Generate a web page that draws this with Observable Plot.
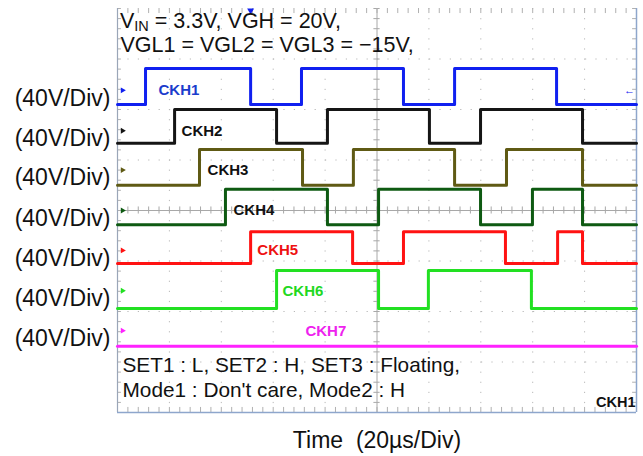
<!DOCTYPE html>
<html><head><meta charset="utf-8">
<script src="https://cdn.jsdelivr.net/npm/d3@7"></script>
<script src="https://cdn.jsdelivr.net/npm/@observablehq/plot@0.6"></script>
<style>body{margin:0;background:#fff} #chart{width:643px;height:456px}</style>
</head><body><div id="chart"></div>
<script>
// Channels and their readings (time in µs, level in screen divisions from bottom)
const channels = ["CKH1", "CKH2", "CKH3", "CKH4", "CKH5", "CKH6", "CKH7"];
const traceColors = ["#1020f0", "#151515", "#5f5a14", "#0e5a12", "#ff1212", "#22e022", "#ff22ff"];
const labelColors = ["#1b3ccc", "#111111", "#111111", "#111111", "#ee1111", "#22d822", "#ee22ee"];
const lowLevel  = [6.10, 5.33, 4.50, 3.72, 2.95, 2.06, 1.31];
const highLevel = [6.81, 6.00, 5.21, 4.42, 3.58, 2.81, 1.31];
const refLevel  = [6.38, 5.58, 4.80, 4.00, 3.21, 2.41, 1.62];
const labelTime = [15.8, 24.7, 34.7, 44.7, 53.9, 63.6, 72.4];
const edges = [
  [10.8, 51.3, 70.9, 110.2, 129.9, 169.2],
  [22.0, 61.3, 80.9, 120.2, 139.9, 179.2],
  [31.6, 71.3, 90.9, 129.9, 149.9, 179.2],
  [41.6, 80.9, 100.6, 139.9, 159.9, 179.2],
  [51.3, 90.6, 110.2, 149.5, 169.6, 179.2],
  [61.3, 100.6, 119.8, 159.5],
  []
];
const scaleLabel = "(40V/Div)";
const timeLabel = "Time  (20\u00b5s/Div)";
const titleLine2 = "VGL1 = VGL2 = VGL3 = \u221215V,";
const noteText = "SET1 : L, SET2 : H, SET3 : Floating,\nMode1 : Don't care, Mode2 : H";
const cornerText = "CKH1";
const triggerTime = 51.3;

// build step rows from the edge lists
const rows = [];
channels.forEach((ch, i) => {
  let high = false;
  rows.push({ch, t: 0, v: lowLevel[i]});
  edges[i].forEach(t => { high = !high; rows.push({ch, t, v: high ? highLevel[i] : lowLevel[i]}); });
  rows.push({ch, t: 200, v: high ? highLevel[i] : lowLevel[i]});
});
const chanInfo = channels.map((ch, i) => ({ch, ref: refLevel[i], lt: labelTime[i], lc: labelColors[i], tc: traceColors[i]}));

// graticule positions (divisions)
const xMajor = d3.range(20, 200, 20).filter(v => v !== 100);
const yMajor = d3.range(1, 8, 1).filter(v => v !== 4);
const xMinor = d3.range(0, 200.01, 4);
const yMinor = d3.range(0, 8.001, 0.2);
const gridC = "#b8b8b8";
const edgeC = "#8ea6cc";
const FONT = "'Liberation Sans', Arial, Helvetica, sans-serif";

const plot = Plot.plot({
  width: 643, height: 456,
  marginLeft: 117, marginRight: 7, marginTop: 8, marginBottom: 44,
  style: {fontFamily: FONT, background: "white", overflow: "visible"},
  x: {domain: [0, 200], axis: null},
  y: {domain: [0, 8], axis: null},
  color: {domain: channels, range: traceColors},
  marks: [
    Plot.ruleX(xMajor, {stroke: gridC, strokeWidth: 1, strokeDasharray: "1.2,8.9"}),
    Plot.ruleY(yMajor, {stroke: gridC, strokeWidth: 1, strokeDasharray: "1.2,9.2"}),
    Plot.ruleX([100], {stroke: "#a8a8a8", strokeWidth: 1}),
    Plot.ruleY([4], {stroke: "#a8a8a8", strokeWidth: 1}),
    Plot.ruleX(xMinor, {x: d => d, y1: 3.93, y2: 4.07, stroke: "#a8a8a8"}),
    Plot.ruleY(yMinor, {y: d => d, x1: 98.8, x2: 101.2, stroke: "#a8a8a8"}),
    Plot.ruleX(xMinor, {x: d => d, y1: 7.9, y2: 8, stroke: "#b0b0b0"}),
    Plot.ruleX(xMinor, {x: d => d, y1: 0, y2: 0.1, stroke: "#b0b0b0"}),
    Plot.ruleY(yMinor, {y: d => d, x1: 0, x2: 1.5, stroke: "#b0b0b0"}),
    Plot.ruleY(yMinor, {y: d => d, x1: 198.5, x2: 200, stroke: "#b0b0b0"}),
    Plot.ruleX([0], {stroke: "#9aa6b8", strokeWidth: 1.2}),
    Plot.ruleX([200], {stroke: edgeC, strokeWidth: 1.5}),
    Plot.ruleY([0], {stroke: edgeC, strokeWidth: 1.5}),
    Plot.line(rows, {x: "t", y: "v", z: "ch", stroke: "ch", curve: "step-after", strokeWidth: 3}),
    Plot.dot(chanInfo, {x: 0, y: "ref", symbol: "triangle2", rotate: 90, r: 2.8, fill: "tc", stroke: "none", dx: 5}),
    Plot.text(chanInfo, {x: "lt", y: "ref", text: "ch", fill: "lc", fontWeight: "bold", fontSize: 15, textAnchor: "start"}),
    Plot.axisY({ticks: refLevel, tickFormat: () => scaleLabel, tickSize: 0, tickPadding: 7, fontSize: 23, dy: 8, anchor: "left", fill: "#111"}),
    Plot.text([timeLabel], {frameAnchor: "bottom", dy: 35, lineAnchor: "bottom", fontSize: 23, fill: "#111"}),
    Plot.text([titleLine2], {frameAnchor: "top-left", dx: 3, dy: 43, lineAnchor: "bottom", textAnchor: "start", fontSize: 21.5, fill: "#111"}),
    Plot.text([noteText], {frameAnchor: "bottom-left", dx: 5, dy: -16, lineAnchor: "bottom", textAnchor: "start", fontSize: 20.8, lineHeight: 1.2, fill: "#111"}),
    Plot.text([cornerText], {frameAnchor: "bottom-right", dx: -1, dy: -6, lineAnchor: "bottom", textAnchor: "end", fontSize: 14.5, fontWeight: "bold", fill: "#111"}),
    Plot.dot([triggerTime], {x: d => d, y: 8, symbol: "triangle", rotate: 180, r: 2.6, fill: traceColors[0], dy: 2}),
    Plot.text(["\u2190"], {x: 200, y: refLevel[0], dx: -7, fontSize: 11, fill: traceColors[0], fontWeight: "bold"})
  ]
});
document.getElementById("chart").append(plot);

// first title line with subscript
const svg = d3.select(plot);
const t1 = svg.append("text").attr("x", 120).attr("y", 28)
  .attr("text-anchor", "start")
  .attr("font-size", 21.5).attr("fill", "#111")
  .attr("font-family", FONT);
t1.append("tspan").text("V");
t1.append("tspan").attr("font-size", 14.5).attr("dy", 3).text("IN");
t1.append("tspan").attr("dy", -3).text(" = 3.3V, VGH = 20V,");
</script>
</body></html>
